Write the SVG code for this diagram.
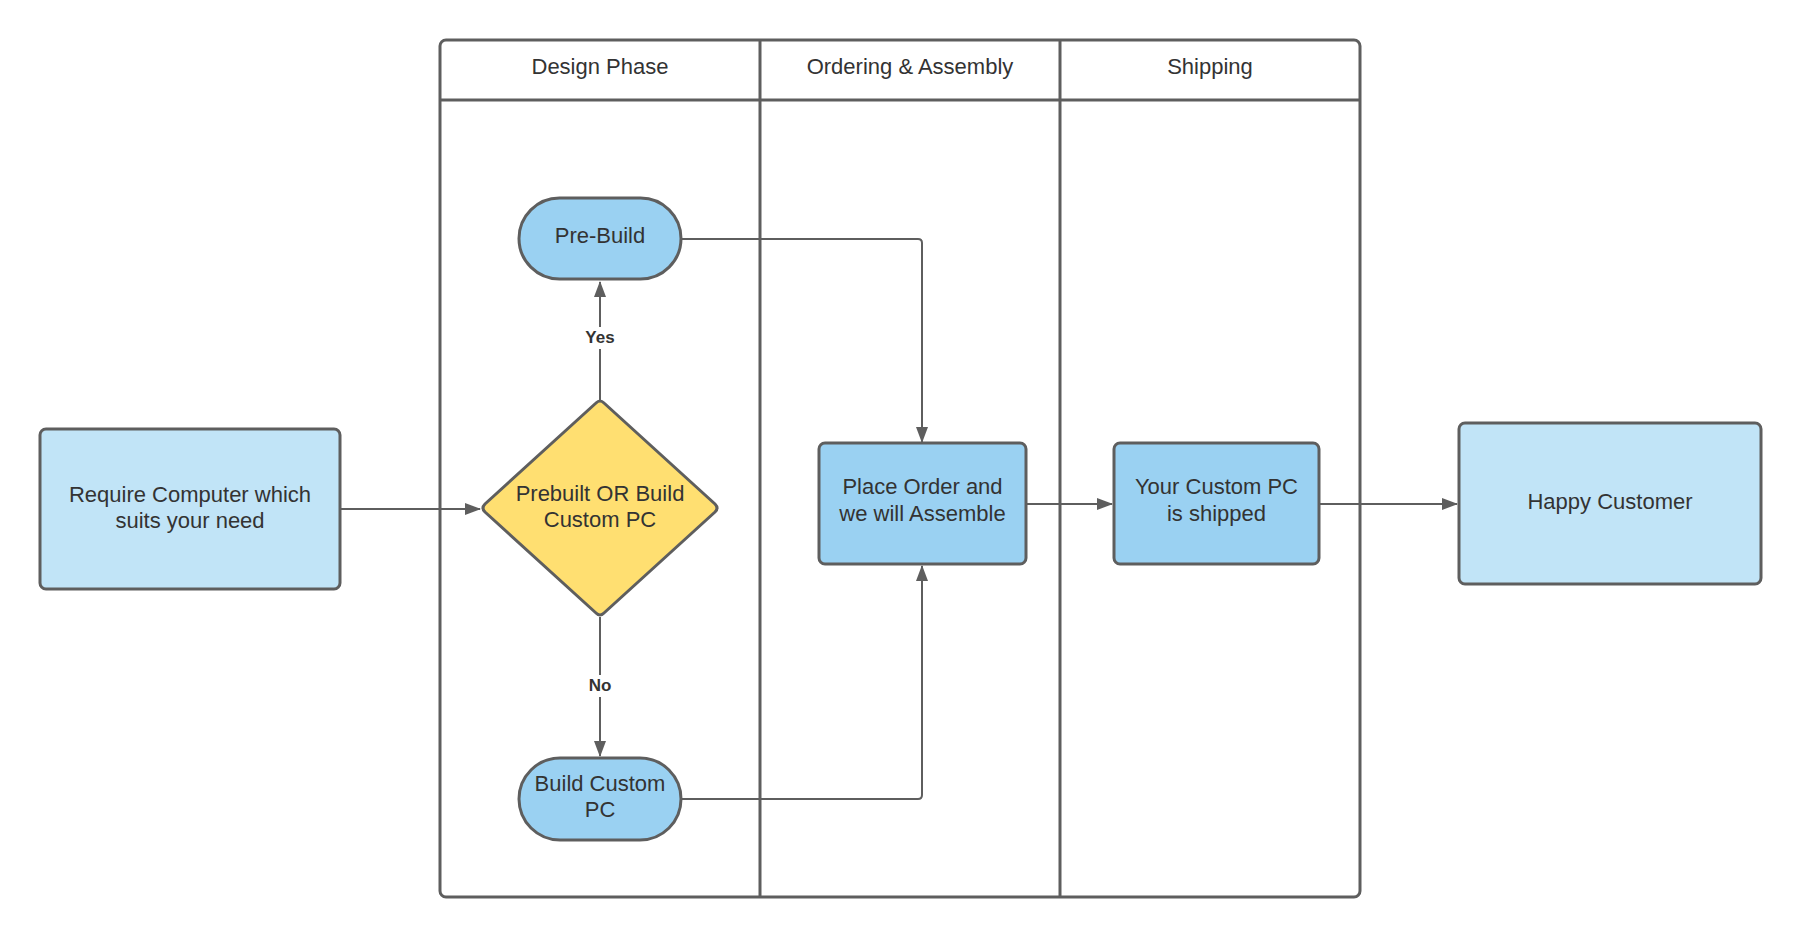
<svg xmlns="http://www.w3.org/2000/svg" width="1800" height="937" viewBox="0 0 1800 937">
<defs>
<marker id="arr" viewBox="0 0 16 12" refX="15" refY="6" markerWidth="16" markerHeight="12" markerUnits="userSpaceOnUse" orient="auto">
<path d="M0,0 L16,6 L0,12 Z" fill="#5e5e5e"/>
</marker>
<style>
.pool{fill:none;stroke:#5e5e5e;stroke-width:3}
.node{stroke:#5e5e5e;stroke-width:3}
.light{fill:#c1e4f7}
.mid{fill:#9ad1f2}
.yellow{fill:#ffdf71}
text{font-family:"Liberation Sans",Arial,sans-serif;font-size:22px;fill:#333333;text-anchor:middle}
.lbl{font-weight:bold;font-size:17px}
.conn{fill:none;stroke:#5e5e5e;stroke-width:2}
</style>
</defs>
<rect width="1800" height="937" fill="#ffffff"/>
<g id="pool">
<rect class="pool" x="440" y="40" width="920" height="857" rx="6"/>
<line class="pool" x1="440" y1="100" x2="1360" y2="100"/>
<line class="pool" x1="760" y1="40" x2="760" y2="897"/>
<line class="pool" x1="1060" y1="40" x2="1060" y2="897"/>
<text x="600" y="74">Design Phase</text>
<text x="910" y="74">Ordering &amp; Assembly</text>
<text x="1210" y="74">Shipping</text>
</g>
<g id="connectors">
<path class="conn" d="M340,509 L480,509" marker-end="url(#arr)"/>
<path class="conn" d="M600,400 L600,282" marker-end="url(#arr)"/>
<path class="conn" d="M600,617 L600,756" marker-end="url(#arr)"/>
<path class="conn" d="M681,239 L918,239 Q922,239 922,243 L922,442" marker-end="url(#arr)"/>
<path class="conn" d="M681,799 L918,799 Q922,799 922,795 L922,566" marker-end="url(#arr)"/>
<path class="conn" d="M1026,504 L1112,504" marker-end="url(#arr)"/>
<path class="conn" d="M1319,504 L1457,504" marker-end="url(#arr)"/>
<rect x="582" y="327" width="36" height="22" fill="#ffffff"/>
<text class="lbl" x="600" y="343">Yes</text>
<rect x="584" y="675" width="32" height="22" fill="#ffffff"/>
<text class="lbl" x="600" y="691">No</text>
</g>
<g id="require">
<rect class="node light" x="40" y="429" width="300" height="160" rx="6"/>
<text x="190" y="502">Require Computer which</text>
<text x="190" y="528">suits your need</text>
</g>
<g id="decision">
<path class="node yellow" d="M596,403 Q600,399 604,403 L715,504 Q719,508 715,512 L604,613 Q600,617 596,613 L485,512 Q481,508 485,504 Z"/>
<text x="600" y="501">Prebuilt OR Build</text>
<text x="600" y="527">Custom PC</text>
</g>
<g id="prebuild">
<rect class="node mid" x="519" y="198" width="162" height="81" rx="40.5"/>
<text x="600" y="243">Pre-Build</text>
</g>
<g id="buildcustom">
<rect class="node mid" x="519" y="758" width="162" height="82" rx="41"/>
<text x="600" y="791">Build Custom</text>
<text x="600" y="817">PC</text>
</g>
<g id="placeorder">
<rect class="node mid" x="819" y="443" width="207" height="121" rx="6"/>
<text x="922.5" y="494">Place Order and</text>
<text x="922.5" y="521">we will Assemble</text>
</g>
<g id="shipped">
<rect class="node mid" x="1114" y="443" width="205" height="121" rx="6"/>
<text x="1216.5" y="494">Your Custom PC</text>
<text x="1216.5" y="521">is shipped</text>
</g>
<g id="happy">
<rect class="node light" x="1459" y="423" width="302" height="161" rx="6"/>
<text x="1610" y="509">Happy Customer</text>
</g>
</svg>
